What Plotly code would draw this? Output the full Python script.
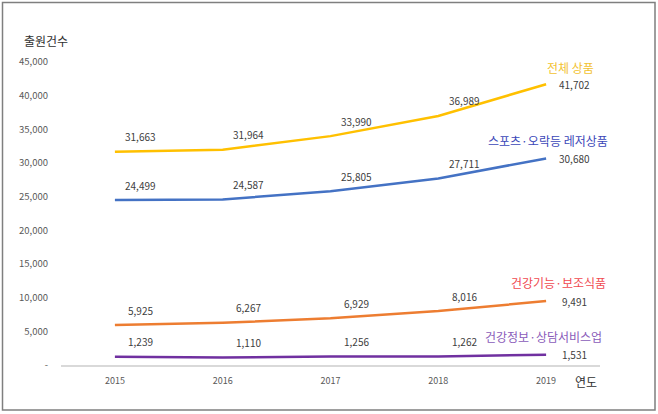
import plotly.graph_objects as go

years = ["2015", "2016", "2017", "2018", "2019"]
total = [31663, 31964, 33990, 36989, 41702]
sports = [24499, 24587, 25805, 27711, 30680]
supplements = [5925, 6267, 6929, 8016, 9491]
info = [1239, 1110, 1256, 1262, 1531]

series_names = ["전체 상품", "스포츠·오락등 레저상품", "건강기능·보조식품", "건강정보·상담서비스업"]
series_values = [total, sports, supplements, info]
line_colors = ["#FFC000", "#4472C4", "#ED7D31", "#7030A0"]
name_colors = ["#F2C230", "#3B47B8", "#F04A50", "#8A5CBA"]
name_shifts = [(24, 17), (2, 18), (12, 19), (-3, 18)]

ytick_vals = [0, 5000, 10000, 15000, 20000, 25000, 30000, 35000, 40000, 45000]
ytick_text = ["-", "5,000", "10,000", "15,000", "20,000", "25,000", "30,000", "35,000", "40,000", "45,000"]

FONT = "Noto Sans CJK KR"

fig = go.Figure()
annotations = []
for name, vals, lc, nc, (sx, sy) in zip(series_names, series_values, line_colors, name_colors, name_shifts):
    fig.add_trace(go.Scatter(x=years, y=vals, mode="lines", line=dict(color=lc, width=2.5),
                             name=name, showlegend=False, hoverinfo="skip"))
    for i, v in enumerate(vals):
        last = i == len(years) - 1
        annotations.append(dict(
            x=i, y=v, xref="x", yref="y", text=f"{v:,}", showarrow=False,
            xanchor="center", yanchor="middle",
            xshift=28 if last else 26, yshift=0 if last else 15,
            font=dict(family=FONT, size=10, color="#404040")))
    annotations.append(dict(
        x=len(years) - 1, y=vals[-1], xref="x", yref="y", text=name, showarrow=False,
        xanchor="center", yanchor="middle",
        xshift=sx, yshift=sy, font=dict(family=FONT, size=12, color=nc)))

annotations.append(dict(x=(22 - 61) / 539, y=(365 - 40) / 303, xref="paper", yref="paper",
                        text="출원건수", showarrow=False, xanchor="left", yanchor="middle",
                        font=dict(family=FONT, size=12, color="#303030")))
annotations.append(dict(x=(586 - 61) / 539, y=(365 - 381) / 303, xref="paper", yref="paper",
                        text="연도", showarrow=False, xanchor="center", yanchor="middle",
                        font=dict(family=FONT, size=12, color="#303030")))

fig.update_layout(
    width=658, height=414,
    margin=dict(l=61, r=58, t=62, b=49),
    paper_bgcolor="white", plot_bgcolor="white",
    annotations=annotations,
    shapes=[dict(type="rect", xref="paper", yref="paper",
                 x0=(2.5 - 61) / 539, x1=(655 - 61) / 539,
                 y0=(365 - 410) / 303, y1=(365 - 2.5) / 303,
                 line=dict(color="#7F7F7F", width=1.5), fillcolor="rgba(0,0,0,0)", layer="below")],
    xaxis=dict(type="category", range=[-0.5, 4.5], showgrid=False, zeroline=False,
               showline=True, linecolor="#D9D9D9", linewidth=1.5, ticks="",
               tickfont=dict(family=FONT, size=9, color="#595959"), ticklabelstandoff=6),
    yaxis=dict(range=[0, 45000], tickvals=ytick_vals, ticktext=ytick_text,
               showgrid=False, zeroline=False, showline=False, ticks="",
               tickfont=dict(family=FONT, size=9.5, color="#595959"), ticklabelstandoff=12),
)

fig.write_html("out.html")
